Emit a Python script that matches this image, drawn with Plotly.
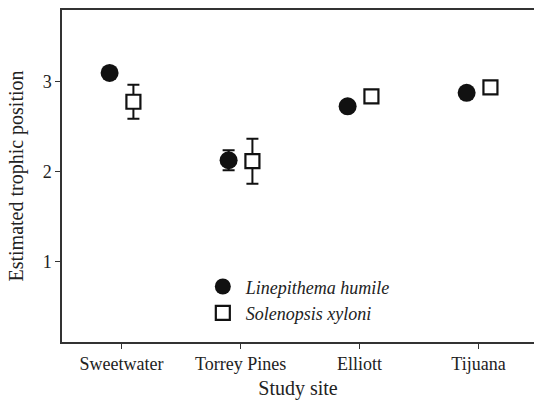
import plotly.graph_objects as go

sites = ["Sweetwater", "Torrey Pines", "Elliott", "Tijuana"]
humile_mean = [3.10, 2.13, 2.73, 2.88]
humile_err = [0.04, 0.11, 0.04, 0.04]
xyloni_mean = [2.78, 2.12, 2.84, 2.94]
xyloni_err = [0.19, 0.25, 0.04, 0.04]

offset = 0.1
x_idx = list(range(len(sites)))
FONT = "Liberation Serif, Times New Roman, serif"
INK = "#111111"
AXIS = "#333333"

fig = go.Figure()
fig.add_trace(go.Scatter(
    x=[i - offset for i in x_idx], y=humile_mean, mode="markers",
    name="<i>Linepithema humile</i>",
    marker=dict(symbol="circle", size=18, color=INK, line=dict(width=0)),
    error_y=dict(type="data", array=humile_err, visible=True, color=INK, thickness=2, width=6),
))
fig.add_trace(go.Scatter(
    x=[i + offset for i in x_idx], y=xyloni_mean, mode="markers",
    name="<i>Solenopsis xyloni</i>",
    marker=dict(symbol="square", size=14, color="white", line=dict(width=2.2, color=INK)),
    error_y=dict(type="data", array=xyloni_err, visible=True, color=INK, thickness=2, width=6),
))

fig.update_layout(
    width=534, height=400,
    margin=dict(l=62, r=0, t=10, b=58),
    paper_bgcolor="white", plot_bgcolor="white",
    font=dict(family=FONT, size=18, color="#222"),
    showlegend=True,
    legend=dict(x=0.292, y=0.222, xanchor="left", yanchor="top",
                font=dict(family=FONT, size=18, color="#222"),
                bgcolor="rgba(0,0,0,0)", tracegroupgap=0, itemsizing="trace",
                itemwidth=36),
    xaxis=dict(
        tickmode="array", tickvals=x_idx, ticktext=sites,
        range=[-0.5, 3.466], showgrid=False, zeroline=False,
        showline=True, linecolor=AXIS, linewidth=1.5, mirror=True,
        ticks="outside", ticklen=5, tickcolor=AXIS,
        title=dict(text="Study site", font=dict(family=FONT, size=20), standoff=8),
    ),
    yaxis=dict(
        tickvals=[1, 2, 3], range=[0.11, 3.8], showgrid=False, zeroline=False,
        showline=True, linecolor=AXIS, linewidth=1.5, mirror=False,
        ticks="outside", ticklen=5, tickcolor=AXIS,
        title=dict(text="Estimated trophic position", font=dict(family=FONT, size=20), standoff=14),
    ),
)

# remove the browser's default 8px body margin so the figure fills the window exactly
fig.write_html(
    "out.html",
    config={"displayModeBar": False},
    post_script="document.body.style.margin='0';document.body.style.overflow='hidden';",
)
